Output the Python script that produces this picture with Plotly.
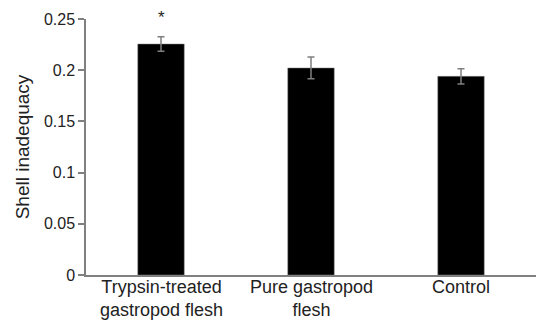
import plotly.graph_objects as go

categories = ["Trypsin-treated<br>gastropod flesh", "Pure gastropod<br>flesh", "Control"]
values = [0.2256, 0.2022, 0.1940]
errors = [0.0070, 0.0106, 0.0075]
tick_vals = [0, 0.05, 0.1, 0.15, 0.2, 0.25]
tick_text = ["0", "0.05", "0.1", "0.15", "0.2", "0.25"]
star_label = "*"

fig = go.Figure()
fig.add_trace(go.Bar(
    x=categories, y=values,
    marker=dict(color="#000000", line=dict(color="#888888", width=0.5)),
    width=0.31,
    error_y=dict(type="data", array=errors, visible=True, color="#7f7f7f",
                 thickness=1.5, width=3.5),
))
fig.add_annotation(x=categories[0], y=values[0] + errors[0], yref="y",
                   text=star_label, showarrow=False, yshift=19,
                   font=dict(size=17, color="#222222", family="Liberation Sans"))
for c in categories:
    fig.add_annotation(x=c, y=0, yref="paper", yanchor="top", text=c,
                       showarrow=False, yshift=0,
                       font=dict(size=18, color="#222222", family="Liberation Sans"))

fig.update_layout(
    width=538, height=321,
    margin=dict(l=86, r=2, t=19, b=46),
    plot_bgcolor="white", paper_bgcolor="white",
    showlegend=False,
    font=dict(family="Liberation Sans", color="#222222"),
)
fig.update_xaxes(
    type="category", range=[-0.5, 2.5], automargin=False,
    showline=True, linecolor="#808080", linewidth=1.5,
    ticks="", showgrid=False, showticklabels=False,
)
fig.update_yaxes(
    range=[0, 0.25], tickvals=tick_vals, ticktext=tick_text, automargin=False,
    showline=True, linecolor="#808080", linewidth=1.5,
    ticks="outside", ticklen=6, tickcolor="#808080", tickwidth=1.5,
    showgrid=False, zeroline=False,
    tickfont=dict(size=16, color="#222222"),
    title=dict(text="Shell inadequacy", font=dict(size=19, color="#222222"), standoff=9),
)
fig.write_html("out.html")
